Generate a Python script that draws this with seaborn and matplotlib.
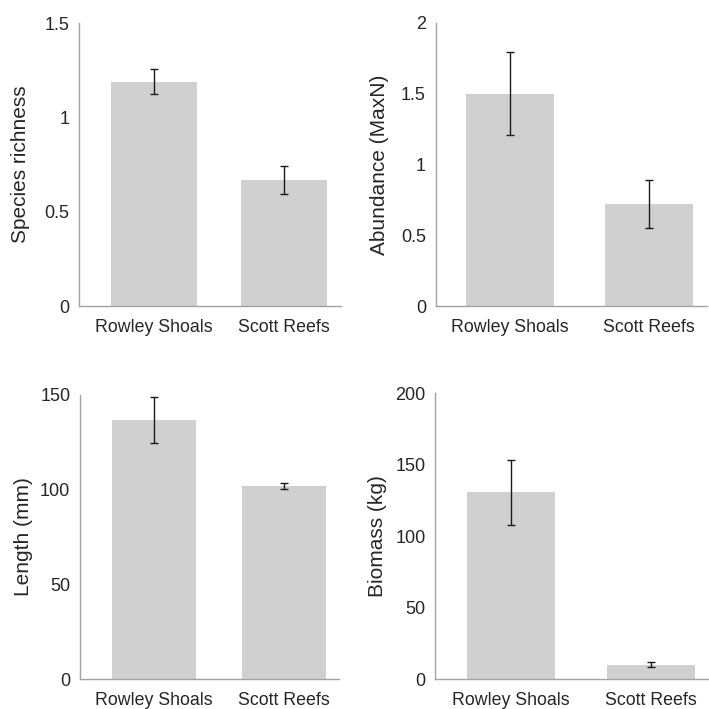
import matplotlib
matplotlib.use("Agg")
import matplotlib.pyplot as plt
import seaborn as sns
import numpy as np

# Site names on the category axis
sites = ["Rowley Shoals", "Scott Reefs"]

# Mean values and standard errors per metric
richness_mean = [1.19, 0.67]
richness_se = [0.065, 0.075]

abundance_mean = [1.50, 0.72]
abundance_se = [0.295, 0.17]

length_mean = [136.7, 101.8]
length_se = [12.3, 1.5]

biomass_mean = [130.7, 9.9]
biomass_se = [22.7, 1.7]

# Axis labels and tick values
y_labels = ["Species richness", "Abundance (MaxN)", "Length (mm)", "Biomass (kg)"]
richness_ticks = [0, 0.5, 1, 1.5]
abundance_ticks = [0, 0.5, 1, 1.5, 2]
length_ticks = [0, 50, 100, 150]
biomass_ticks = [0, 50, 100, 150, 200]

sns.set_theme(style="white")
plt.rcParams["font.family"] = ["Liberation Sans", "DejaVu Sans"]

BAR_COLOR = "#cfd0d2"
SPINE_COLOR = "#a3a3a3"
TEXT_COLOR = "#262626"

fig = plt.figure(figsize=(7.09, 7.09), dpi=100)

panels = [
    # rect, means, errors, ticks, tick text, xlim, bar width, label x
    ([0.1114, 0.5684, 0.3695, 0.3990], richness_mean, richness_se, richness_ticks,
     ["0", "0.5", "1", "1.5"], (-0.577, 1.438), 0.66, -0.187),
    ([0.6145, 0.5684, 0.3822, 0.3995], abundance_mean, abundance_se, abundance_ticks,
     ["0", "0.5", "1", "1.5", "2"], (-0.537, 1.418), 0.634, -0.172),
    ([0.1128, 0.0423, 0.3657, 0.4010], length_mean, length_se, length_ticks,
     ["0", "50", "100", "150"], (-0.573, 1.428), 0.65, -0.180),
    ([0.6140, 0.0423, 0.3846, 0.4030], biomass_mean, biomass_se, biomass_ticks,
     ["0", "50", "100", "150", "200"], (-0.541, 1.407), 0.63, -0.176),
]

for (rect, means, errs, ticks, tlabels, xlim, bw, lx), ylab in zip(panels, y_labels):
    ax = fig.add_axes(rect)
    sns.barplot(x=sites, y=means, color=BAR_COLOR, saturation=1, width=bw,
                errorbar=None, linewidth=0, ax=ax)
    ax.errorbar(np.arange(len(sites)), means, yerr=errs, fmt="none",
                ecolor="#1a1a1a", elinewidth=1.0, capsize=3.2, capthick=1.0)
    ax.set_xlim(*xlim)
    ax.set_ylim(ticks[0], ticks[-1])
    ax.set_yticks(ticks)
    ax.set_yticklabels(tlabels)
    ax.set_ylabel(ylab, fontsize=15, color=TEXT_COLOR)
    ax.yaxis.set_label_coords(lx, 0.5)
    ax.set_xlabel("")
    for side in ("top", "right"):
        ax.spines[side].set_visible(False)
    for side in ("left", "bottom"):
        ax.spines[side].set_color(SPINE_COLOR)
        ax.spines[side].set_linewidth(1.0)
    ax.tick_params(axis="y", length=0, pad=7, labelsize=13, labelcolor=TEXT_COLOR)
    ax.tick_params(axis="x", length=0, pad=9, labelsize=12.8, labelcolor=TEXT_COLOR)

fig.savefig("out.png", dpi=100, facecolor="white")
